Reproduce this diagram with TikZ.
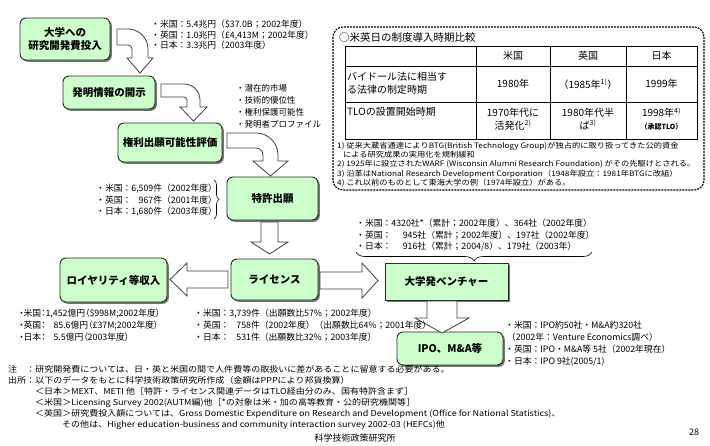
\documentclass[tikz,border=0pt]{standalone}
\usepackage{fontspec}
\setmainfont{Noto Sans CJK JP}
\newfontfamily\stretchfont{Noto Sans CJK JP}[FakeStretch=1.1]
\newfontfamily\paltfont{Noto Sans CJK JP}[RawFeature=+palt]
\usetikzlibrary{shadows,decorations.pathreplacing}
\definecolor{boxgreen}{HTML}{CCFFCC}
\newcommand{\fz}[2]{\fontsize{#1}{#2}\selectfont}
\begin{document}
\begin{tikzpicture}[x=1pt,y=-1pt,
  gbox/.style={draw=black!85, line width=0.9pt, fill=boxgreen, rounded corners=6pt,
     drop shadow={shadow xshift=1.8pt, shadow yshift=-1.8pt, fill=black!55, opacity=1},
     font=\fz{10.5}{13}\bfseries, align=center, inner sep=0pt},
  blockarrow/.style={draw=black!75, fill=white, line width=0.8pt, line join=miter},
  txt/.style={anchor=north west, align=left, inner sep=0pt},
  cell/.style={inner sep=0pt, align=center, font=\fz{10}{13}},
  bracedec/.style={decorate, decoration={brace, amplitude=#1}, line width=0.6pt},
]
\fill[white] (0,0) rectangle (710,445);
\useasboundingbox (0,0) rectangle (710,445);

% flow boxes
\node[gbox, minimum width=90pt, minimum height=42pt] (b1) at (65,39) {大学への\\研究開発費投入};
\node[gbox, minimum width=92pt, minimum height=33pt] (b2) at (109,92.5) {発明情報の開示};
\node[gbox, minimum width=104pt, minimum height=39pt] (b3) at (170,142.5) {権利出願可能性評価};
\node[gbox, minimum width=91pt, minimum height=43pt] (b4) at (272.5,198.5) {特許出願};
\node[gbox, minimum width=87pt, minimum height=41pt] (b5) at (274.5,279.5) {ライセンス};
\node[gbox, minimum width=107pt, minimum height=44pt] (b6) at (113.5,280) {ロイヤリティ等収入};
\node[gbox, sharp corners, minimum width=123pt, minimum height=37pt] (b7) at (446.5,281.5) {大学発ベンチャー};
\node[gbox, minimum width=106pt, minimum height=33pt] (b8) at (450,348.5) {IPO、M\&A等};

% block arrows
\draw[blockarrow] (117,29) -- (128,29) arc[start angle=-90,end angle=0,radius=20] -- (148,58) -- (153,58) -- (140,73) -- (127,58) -- (132,58) -- (132,49) arc[start angle=0,end angle=-90,radius=4] -- (117,45) -- cycle;
\draw[blockarrow] (161,84) -- (184,84) arc[start angle=-90,end angle=0,radius=16] -- (200,107) -- (207,107) -- (193.5,121) -- (180,107) -- (187,107) -- (187,100) arc[start angle=0,end angle=-90,radius=3] -- (161,97) -- cycle;
\draw[blockarrow] (227,133) -- (256,133) arc[start angle=-90,end angle=0,radius=22] -- (278,161) -- (288,161) -- (270.5,176) -- (253,161) -- (263,161) -- (263,155) arc[start angle=0,end angle=-90,radius=7] -- (227,148) -- cycle;
\draw[blockarrow] (261,222) -- (278,222) -- (278,242) -- (288,242) -- (269.5,254) -- (251,242) -- (261,242) -- cycle;
\draw[blockarrow] (228,271) -- (187,271) -- (187,263) -- (170,279.5) -- (187,296) -- (187,288) -- (228,288) -- cycle;
\draw[blockarrow] (320,272) -- (362,272) -- (362,263) -- (378,280.5) -- (362,298) -- (362,289) -- (320,289) -- cycle;
\draw[blockarrow] (427,301) -- (457,301) -- (457,318) -- (469,318) -- (442,333) -- (415,318) -- (427,318) -- cycle;

% side texts
\node[txt, font=\fz{8.8}{10.5}] (t1) at (151,20) {・米国：5.4兆円（\$37.0B；2002年度）\\・英国：1.0兆円（£4,413M；2002年度）\\・日本：3.3兆円（2003年度）};
\node[txt, font=\fz{8.5}{12}] (t2) at (236,84) {・潜在的市場\\・技術的優位性\\・権利保護可能性\\・発明者プロファイル};
\node[txt, font=\fz{8.8}{11.5}] (t3) at (96,184) {・米国：6,509件（2002年度）\\・英国：\phantom{6,}967件（2001年度）\\・日本：1,680件（2003年度）};
\draw[bracedec=5pt] (214,180) -- (214,219);
\node[txt, font=\fz{8.8}{11.5}] (t4) at (356,219) {・米国：4320社*（累計；2002年度）、364社（2002年度）\\・英国：\hspace{1.3em}945社（累計；2002年度）、197社（2002年度）\\・日本：\hspace{1.3em}916社（累計；2004/8）、179社（2003年）};
\draw[bracedec=9pt, decoration={mirror}] (356,252) -- (592,252);
\node[txt, font=\paltfont\fz{8.8}{12}] (t5) at (19,309) {・米国：1,452億円（\$998M;2002年度）\\・英国：\hspace{0.9em}85.6億円（£37M;2002年度）\\・日本：\hspace{0.9em}5.5億円（2003年度）};
\node[txt, font=\fz{8.8}{12}] (t6) at (194,309) {・米国：3,739件（出願数比57\%；2002年度）\\・英国：\hspace{0.8em}758件（2002年度）（出願数比64\%；2001年度）\\・日本：\hspace{0.8em}531件（出願数比32\%；2003年度）};
\node[txt, font=\fz{8.8}{12}] (t7) at (505,321) {・米国：IPO約50社・M\&A約320社\\\hspace*{0.2em}（2002年：Venture Economics調べ）\\・英国：IPO・M\&A等 5社（2002年現在）\\・日本：IPO 9社(2005/1)};

% comparison panel
\draw[dash pattern=on 2pt off 1pt, line width=1.1pt, rounded corners=10pt] (333,27) rectangle (704,190);
\node[txt, font=\fz{10.5}{12}] (ttl) at (339,32) {○米英日の制度導入時期比較};
\draw[line width=0.7pt] (345,46) rectangle (697,139);
\draw[line width=0.7pt] (345,66) -- (697,66) (345,102) -- (697,102)
  (476,46) -- (476,139) (550,46) -- (550,139) (626,46) -- (626,139);
\node[cell] (h1) at (513,56) {米国};
\node[cell] (h2) at (588,56) {英国};
\node[cell] (h3) at (661.5,56) {日本};
\node[txt, font=\fz{10}{12.5}] (r1a) at (347,72) {バイドール法に相当す\\る法律の制定時期};
\node[cell] (r1b) at (513,84) {1980年};
\node[cell] (r1c) at (588,84) {（1985年\textsuperscript{1)}）};
\node[cell] (r1d) at (661.5,84) {1999年};
\node[txt, font=\fz{10}{13}] (r2a) at (347,107) {TLOの設置開始時期};
\node[cell] (r2b) at (513,119) {1970年代に\\活発化\textsuperscript{2)}};
\node[cell] (r2c) at (588,119) {1980年代半\\ば\textsuperscript{3)}};
\node[cell] (r2d) at (661.5,119) {1998年\textsuperscript{4)}\\{\fz{7}{9}\bfseries （承認TLO）}};
\node[txt, font=\stretchfont\fz{7.5}{9.2}] (fn) at (337,142) {1) 従来大蔵省通達によりBTG(British Technology Group)が独占的に取り扱ってきた公的資金\\\hspace*{0.8em}による研究成果の実用化を規制緩和\\2) 1925年に設立されたWARF (Wisconsin Alumni Research Foundation) がその先駆けとされる。\\3) 沿革はNational Research Development Corporation（1948年設立：1981年BTGに改組）\\4) これ以前のものとして東海大学の例（1974年設立）がある。};

% notes
\node[txt, font=\stretchfont\fz{8.2}{11}] (notes) at (8,365) {注　：研究開発費については、日・英と米国の間で人件費等の取扱いに差があることに留意する必要がある。\\出所：以下のデータをもとに科学技術政策研究所作成（金額はPPPにより邦貨換算）\\\hspace*{27pt}＜日本＞MEXT、METI 他［特許・ライセンス関連データはTLO経由分のみ、国有特許含まず］\\\hspace*{27pt}＜米国＞Licensing Survey 2002(AUTM編)他［*の対象は米・加の高等教育・公的研究機関等］\\\hspace*{27pt}＜英国＞研究費投入額については、Gross Domestic Expenditure on Research and Development (Office for National Statistics)、\\\hspace*{54pt}その他は、Higher education-business and community interaction survey 2002-03 (HEFCs)他};
\node[font=\fz{9}{11}, inner sep=0pt] (foot) at (355,438) {科学技術政策研究所};
\node[font=\fz{9}{11}, inner sep=0pt] (page) at (694,432) {28};
\end{tikzpicture}
\end{document}
